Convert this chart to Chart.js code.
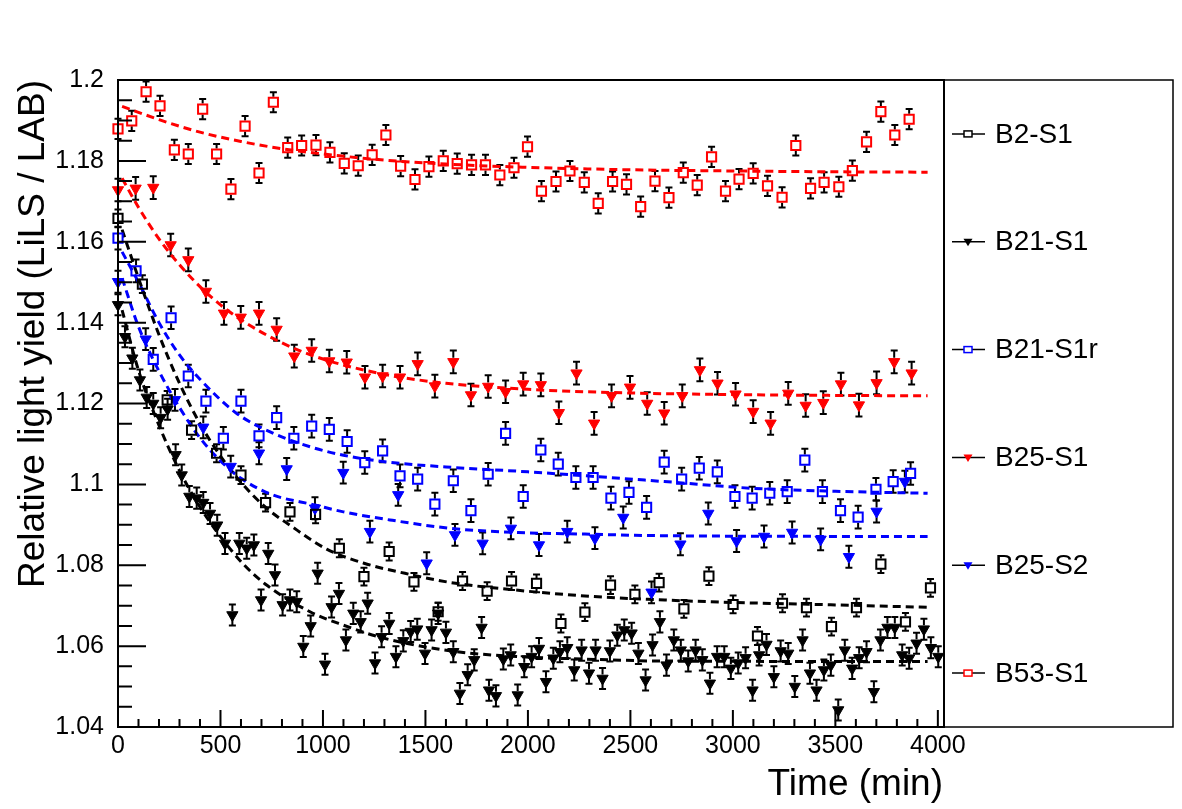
<!DOCTYPE html>
<html lang="es">
<head>
<meta charset="utf-8">
<title>Relative light yield</title>
<script src="https://cdn.jsdelivr.net/npm/chart.js@4.4.1/dist/chart.umd.min.js"></script>
<style>
  html, body { margin: 0; padding: 0; background: #ffffff; }
  #grafico { display: block; }
</style>
</head>
<body>
<canvas id="grafico" width="1182" height="809"></canvas>
<script>
(function () {
  "use strict";

  // ---- Datos (tiempo en min, rendimiento relativo) ----
  const tB2S1 = [0, 119, 240, 359, 481, 600, 720, 839, 964, 1080, 1200, 1323, 1444, 1562, 1681, 1801, 1920, 2042, 2161, 2278, 2403, 2522, 2640, 2761, 2883, 3001, 3120, 3242, 3359, 3481, 3603, 3722, 3842, 3964];
  const vB2S1 = [1.1658, 1.1495, 1.1209, 1.1134, 1.1077, 1.1023, 1.0955, 1.0932, 1.0926, 1.0842, 1.0772, 1.0834, 1.0759, 1.0685, 1.0761, 1.0736, 1.0761, 1.0755, 1.0656, 1.0684, 1.0751, 1.0728, 1.0757, 1.0692, 1.0773, 1.0703, 1.0625, 1.0706, 1.0695, 1.0648, 1.0695, 1.0803, 1.0660, 1.0744];

  const tB21S1 = [0, 34, 70, 107, 140, 172, 208, 242, 281, 311, 348, 384, 416,
    449, 484, 522, 558, 592, 628, 663, 698, 733, 766, 803, 839, 872, 904, 940, 974, 1010, 1042, 1078, 1112, 1148, 1184, 1218, 1254, 1286, 1323,
    1356, 1392, 1428, 1460, 1498, 1530, 1562, 1600, 1636, 1668, 1706, 1738, 1774, 1810, 1844, 1880, 1916, 1950, 1982, 2018, 2054, 2088, 2124, 2156, 2192, 2226, 2262, 2298, 2330, 2364, 2400, 2436, 2470, 2506, 2539, 2574, 2608, 2644,
    2676, 2712, 2746, 2782, 2818, 2851, 2888, 2923, 2958, 2990, 3026, 3062, 3096, 3128, 3164, 3200, 3233, 3270, 3302, 3340, 3376, 3408, 3444, 3478, 3514, 3546, 3582, 3616, 3652, 3688, 3720, 3754, 3790, 3826, 3860, 3896, 3932, 3966, 4002];
  const vB21S1 = [1.1444, 1.1365, 1.1312, 1.1258, 1.1215, 1.1200, 1.1165, 1.1186, 1.1073, 1.1023, 1.0970, 1.0966, 1.0955,
    1.0928, 1.0899, 1.0854, 1.0677, 1.0854, 1.0842, 1.0850, 1.0714, 1.0829, 1.0776, 1.0702, 1.0714, 1.0710, 1.0599, 1.0650, 1.0780, 1.0555, 1.0697, 1.0730, 1.0615, 1.0681, 1.0660, 1.0706, 1.0558, 1.0623, 1.0656,
    1.0574, 1.0613, 1.0636, 1.0642, 1.0582, 1.0640, 1.0681, 1.0634, 1.0586, 1.0483, 1.0529, 1.0566, 1.0646, 1.0491, 1.0477, 1.0568, 1.0578, 1.0479, 1.0549, 1.0574, 1.0594, 1.0512, 1.0570, 1.0586, 1.0596, 1.0541, 1.0590, 1.0533, 1.0590, 1.0520, 1.0588, 1.0627, 1.0640, 1.0632, 1.0582, 1.0516, 1.0603, 1.0660,
    1.0553, 1.0615, 1.0590, 1.0563, 1.0590, 1.0566, 1.0508, 1.0574, 1.0574, 1.0545, 1.0558, 1.0571, 1.0491, 1.0578, 1.0604, 1.0524, 1.0588, 1.0582, 1.0500, 1.0615, 1.0533, 1.0491, 1.0541, 1.0553, 1.0442, 1.0590, 1.0545, 1.0571, 1.0586, 1.0487, 1.0615, 1.0646, 1.0646, 1.0578, 1.0570, 1.0607, 1.0642, 1.0596, 1.0574];

  const tB21S1r = [0, 88, 172, 259, 343, 429, 514, 600, 688, 774, 858, 945, 1031, 1118, 1204, 1291, 1376, 1462, 1546, 1636, 1722, 1806, 1891, 1977, 2063, 2148, 2234, 2318, 2405, 2493, 2579, 2665, 2750, 2836, 2924, 3010, 3094, 3180, 3265, 3351, 3437, 3525, 3611, 3698, 3782, 3867];
  const vB21S1r = [1.1609, 1.1528, 1.1309, 1.1412, 1.1268, 1.1206, 1.1114, 1.1206, 1.1120, 1.1165, 1.1114, 1.1144, 1.1136, 1.1106, 1.1054, 1.1083, 1.1021, 1.1013, 1.0951, 1.1009, 1.0935, 1.1025, 1.1126, 1.0970, 1.1085, 1.1050, 1.1017, 1.1017, 1.0966, 1.0980, 1.0943, 1.1055, 1.1013, 1.1040, 1.1031, 1.0970, 1.0966, 1.0978, 1.0982, 1.1060, 1.0982, 1.0935, 1.0919, 1.0988, 1.1007, 1.1027];

  const tB25S1 = [0, 86, 172, 257, 343, 429, 517, 599, 688, 774, 860, 945, 1031, 1116, 1205, 1291, 1376, 1462, 1546, 1636, 1722, 1806, 1891, 1977, 2063, 2151, 2237, 2323, 2408, 2498, 2582, 2665, 2753, 2839, 2925, 3013, 3099, 3184, 3270, 3355, 3441, 3527, 3615, 3701, 3787, 3872];
  const vB25S1 = [1.1728, 1.1732, 1.1734, 1.1592, 1.1555, 1.1477, 1.1423, 1.1413, 1.1423, 1.1383, 1.1317, 1.1331, 1.1305, 1.1302, 1.1265, 1.1268, 1.1265, 1.1298, 1.1243, 1.1303, 1.1221, 1.1242, 1.1229, 1.1248, 1.1246, 1.1177, 1.1275, 1.1151, 1.1219, 1.1240, 1.1200, 1.1176, 1.1219, 1.1283, 1.1250, 1.1223, 1.1180, 1.1151, 1.1225, 1.1195, 1.1202, 1.1248, 1.1196, 1.1251, 1.1303, 1.1275];

  const tB25S2 = [0, 135, 278, 416, 550, 688, 823, 961, 1099, 1229, 1367, 1506, 1644, 1779, 1917, 2054, 2192, 2327, 2465, 2603, 2744, 2880, 3018, 3152, 3289, 3428, 3566, 3701, 3839];
  const vB25S2 = [1.1501, 1.1359, 1.1209, 1.1141, 1.1044, 1.1077, 1.1038, 1.0941, 1.1029, 1.0883, 1.0974, 1.0805, 1.0875, 1.0854, 1.0891, 1.0850, 1.0883, 1.0867, 1.0918, 1.0733, 1.0852, 1.0928, 1.0860, 1.0871, 1.0881, 1.0864, 1.0821, 1.0933, 1.1007];

  const tB53S1 = [0, 67, 137, 205, 275, 343, 413, 481, 551, 620, 688, 758, 828, 896, 966, 1034, 1104, 1172, 1240, 1307, 1379, 1449, 1517, 1587, 1655, 1725, 1793, 1863, 1932, 1998, 2066, 2137, 2205, 2275, 2343, 2413, 2481, 2550, 2620, 2688, 2758, 2826, 2896, 2964, 3030, 3099, 3169, 3240, 3307, 3379, 3445, 3517, 3583, 3652, 3722, 3790, 3860];
  const vB53S1 = [1.1879, 1.1899, 1.1971, 1.1936, 1.1827, 1.1817, 1.1928, 1.1817, 1.1730, 1.1886, 1.1770, 1.1945, 1.1833, 1.1838, 1.1839, 1.1821, 1.1794, 1.1788, 1.1815, 1.1864, 1.1787, 1.1754, 1.1786, 1.1800, 1.1793, 1.1790, 1.1790, 1.1765, 1.1783, 1.1835, 1.1725, 1.1749, 1.1775, 1.1747, 1.1695, 1.1749, 1.1742, 1.1687, 1.1750, 1.1709, 1.1771, 1.1740, 1.1810, 1.1725, 1.1755, 1.1769, 1.1738, 1.1710, 1.1838, 1.1732, 1.1747, 1.1736, 1.1776, 1.1847, 1.1922, 1.1864, 1.1903];

  // Errores típicos (media barra) de cada serie
  const errB2S1 = 0.0022, errB21S1 = 0.0026, errB21S1r = 0.0028;
  const errB25S1 = 0.0028, errB25S2 = 0.0027, errB53S1 = 0.0025;

  const ajT_B2S1 = [20, 100, 200, 300, 400, 500, 600, 725, 839, 1018, 1200, 1400, 1627, 1953, 2278, 2668, 3000, 3500, 3950];
  const ajV_B2S1 = [1.1630, 1.1510, 1.1370, 1.1250, 1.1150, 1.1070, 1.1005, 1.0941, 1.0899, 1.0840, 1.0805, 1.0780, 1.0757, 1.0738, 1.0724, 1.0714, 1.0708, 1.0702, 1.0696];
  const ajT_B21S1 = [20, 100, 200, 300, 400, 500, 611, 725, 937, 1099, 1294, 1627, 1953, 2278, 2668, 3950];
  const ajV_B21S1 = [1.1431, 1.1282, 1.1146, 1.1034, 1.0944, 1.0871, 1.0803, 1.0751, 1.0685, 1.0652, 1.0620, 1.0588, 1.0574, 1.0568, 1.0563, 1.0562];
  const ajT_B21S1r = [20, 100, 200, 300, 400, 578, 750, 937, 1100, 1302, 1600, 2000, 2665, 3105, 3500, 3950];
  const ajV_B21S1r = [1.1575, 1.1500, 1.1400, 1.1320, 1.1260, 1.1176, 1.1128, 1.1093, 1.1072, 1.1056, 1.1043, 1.1031, 1.1007, 1.0990, 1.0983, 1.0978];
  const ajT_B25S1 = [20, 100, 200, 300, 400, 500, 600, 800, 1000, 1300, 1600, 2000, 2500, 3000, 3500, 3950];
  const ajV_B25S1 = [1.1757, 1.1685, 1.1607, 1.1543, 1.1489, 1.1444, 1.1407, 1.1350, 1.1310, 1.1272, 1.1250, 1.1235, 1.1226, 1.1222, 1.1220, 1.1219];
  const ajT_B25S2 = [20, 100, 200, 300, 400, 500, 600, 750, 961, 1100, 1327, 1628, 1953, 2278, 2668, 3950];
  const ajV_B25S2 = [1.1510, 1.1390, 1.1280, 1.1190, 1.1115, 1.1058, 1.1015, 1.0975, 1.0949, 1.0932, 1.0912, 1.0891, 1.0881, 1.0877, 1.0873, 1.0871];
  const ajT_B53S1 = [20, 200, 400, 600, 800, 1000, 1300, 1600, 2000, 2500, 3000, 3500, 3950];
  const ajV_B53S1 = [1.1935, 1.1902, 1.1871, 1.1848, 1.1830, 1.1817, 1.1802, 1.1792, 1.1784, 1.1778, 1.1775, 1.1773, 1.1772];

  // Ejes
  const xTicks = [0, 500, 1000, 1500, 2000, 2500, 3000, 3500, 4000];
  const yTicks = [1.04, 1.06, 1.08, 1.1, 1.12, 1.14, 1.16, 1.18, 1.2];
  const yTickLabels = ["1.04", "1.06", "1.08", "1.1", "1.12", "1.14", "1.16", "1.18", "1.2"];
  const tituloX = "Time (min)";
  const tituloY = "Relative light yield (LiLS / LAB)";

  const FUENTE = '"Liberation Sans", Arimo, Arial, Helvetica, sans-serif';
  const ROJO = "#ff0000", AZUL = "#0000ff", NEGRO = "#000000";

  function puntos(t, v) {
    return t.map((x, i) => ({ x: x, y: v[i] }));
  }

  // Serie de marcadores con barra de error
  function serie(nombre, t, v, err, color, forma) {
    const tri = forma === "triangle";
    return {
      label: nombre,
      data: puntos(t, v),
      showLine: false,
      pointStyle: forma,
      rotation: tri ? 180 : 0,
      pointRadius: tri ? 6.5 : 6.5,
      pointBorderWidth: tri ? 1 : 2,
      pointBackgroundColor: tri ? color : "rgba(0,0,0,0)",
      pointBorderColor: color,
      errorY: err,
      hueco: tri ? 4 : 5.5,
      clip: false,
      order: 1,
    };
  }

  // Curva de ajuste discontinua
  function ajuste(t, v, color) {
    return {
      label: "",
      data: puntos(t, v),
      showLine: true,
      cubicInterpolationMode: "monotone",
      borderColor: color,
      borderWidth: 3,
      borderDash: [8, 5],
      pointRadius: 0,
      fill: false,
      order: 2,
    };
  }

  const series = [
    serie("B2-S1", tB2S1, vB2S1, errB2S1, NEGRO, "rect"),
    serie("B21-S1", tB21S1, vB21S1, errB21S1, NEGRO, "triangle"),
    serie("B21-S1r", tB21S1r, vB21S1r, errB21S1r, AZUL, "rect"),
    serie("B25-S1", tB25S1, vB25S1, errB25S1, ROJO, "triangle"),
    serie("B25-S2", tB25S2, vB25S2, errB25S2, AZUL, "triangle"),
    serie("B53-S1", tB53S1, vB53S1, errB53S1, ROJO, "rect"),
  ];
  const ajustes = [
    ajuste(ajT_B2S1, ajV_B2S1, NEGRO),
    ajuste(ajT_B21S1, ajV_B21S1, NEGRO),
    ajuste(ajT_B21S1r, ajV_B21S1r, AZUL),
    ajuste(ajT_B25S1, ajV_B25S1, ROJO),
    ajuste(ajT_B25S2, ajV_B25S2, AZUL),
    ajuste(ajT_B53S1, ajV_B53S1, ROJO),
  ];

  // Barras de error (debajo de los marcadores)
  function dibujarErrores(chart) {
    const ctx = chart.ctx, xs = chart.scales.x, ys = chart.scales.y;
    ctx.save();
    ctx.strokeStyle = NEGRO;
    ctx.lineWidth = 2;
    chart.data.datasets.forEach((ds) => {
      if (!ds.errorY) return;
      ds.data.forEach((p) => {
        const px = xs.getPixelForValue(p.x);
        const py = ys.getPixelForValue(p.y);
        const arriba = ys.getPixelForValue(p.y + ds.errorY);
        const abajo = ys.getPixelForValue(p.y - ds.errorY);
        ctx.beginPath();
        if (py - ds.hueco > arriba) {
          ctx.moveTo(px, arriba); ctx.lineTo(px, py - ds.hueco);
          ctx.moveTo(px, py + ds.hueco); ctx.lineTo(px, abajo);
        }
        ctx.moveTo(px - 3.5, arriba); ctx.lineTo(px + 3.5, arriba);
        ctx.moveTo(px - 3.5, abajo); ctx.lineTo(px + 3.5, abajo);
        ctx.stroke();
      });
    });
    ctx.restore();
  }

  // Marco, marcas de los ejes y títulos al estilo ROOT
  function dibujarMarco(chart) {
    const ctx = chart.ctx, a = chart.chartArea;
    const xs = chart.scales.x, ys = chart.scales.y;
    ctx.save();
    ctx.strokeStyle = NEGRO;
    ctx.lineWidth = 2;
    ctx.strokeRect(a.left, a.top, a.right - a.left, a.bottom - a.top);

    ctx.beginPath();
    for (let k = 0; k <= 32; k++) {
      const y = ys.getPixelForValue(1.04 + k * 0.005);
      const largo = k % 4 === 0 ? 28 : 14;
      ctx.moveTo(a.left, y); ctx.lineTo(a.left + largo, y);
    }
    for (let k = 0; k <= 40; k++) {
      const x = xs.getPixelForValue(k * 100);
      const largo = k % 5 === 0 ? 17 : 8;
      ctx.moveTo(x, a.bottom); ctx.lineTo(x, a.bottom - largo);
    }
    ctx.stroke();

    // títulos
    ctx.fillStyle = NEGRO;
    ctx.font = "37px " + FUENTE;
    ctx.textAlign = "right";
    ctx.textBaseline = "alphabetic";
    ctx.fillText(tituloX, a.right - 1, 795);

    ctx.translate(44, a.top);
    ctx.rotate(-Math.PI / 2);
    ctx.fillText(tituloY, 0, 0);
    ctx.restore();
  }

  // Leyenda en caja a la derecha
  function dibujarLeyenda(chart) {
    const ctx = chart.ctx, a = chart.chartArea;
    const izq = a.right, der = 1173;
    ctx.save();
    ctx.strokeStyle = NEGRO;
    ctx.lineWidth = 1.5;
    ctx.strokeRect(izq, a.top, der - izq, a.bottom - a.top);

    const paso = (a.bottom - a.top) / series.length;
    ctx.font = "28px " + FUENTE;
    ctx.textAlign = "left";
    ctx.textBaseline = "middle";
    series.forEach((ds, i) => {
      const y = a.top + paso * (i + 0.5);
      const cx = 968;
      ctx.strokeStyle = NEGRO;
      ctx.lineWidth = 1.5;
      ctx.beginPath();
      ctx.moveTo(952, y); ctx.lineTo(985, y);
      ctx.stroke();
      if (ds.pointStyle === "rect") {
        ctx.fillStyle = "#ffffff";
        ctx.fillRect(cx - 4, y - 3, 8, 6);
        ctx.strokeStyle = ds.pointBorderColor;
        ctx.lineWidth = 1.5;
        ctx.strokeRect(cx - 4, y - 3, 8, 6);
      } else {
        ctx.fillStyle = ds.pointBorderColor;
        ctx.beginPath();
        ctx.moveTo(cx - 4.5, y - 3);
        ctx.lineTo(cx + 4.5, y - 3);
        ctx.lineTo(cx, y + 4.5);
        ctx.closePath();
        ctx.fill();
      }
      ctx.fillStyle = NEGRO;
      ctx.fillText(ds.label, 995, y + 1);
    });
    ctx.restore();
  }

  const pluginRoot = {
    id: "estiloRoot",
    beforeDatasetsDraw: dibujarErrores,
    afterDraw: function (chart) {
      dibujarMarco(chart);
      dibujarLeyenda(chart);
    },
  };

  const ctx = document.getElementById("grafico");
  new Chart(ctx.getContext("2d"), {
    type: "scatter",
    data: { datasets: series.concat(ajustes) },
    options: {
      responsive: false,
      animation: false,
      devicePixelRatio: 1,
      layout: { padding: { left: 0, top: 80, right: 238, bottom: 0 } },
      plugins: { legend: { display: false }, tooltip: { enabled: false } },
      scales: {
        x: {
          type: "linear",
          min: 0,
          max: 4030,
          grid: { display: false, drawTicks: false },
          border: { display: false },
          afterBuildTicks: (s) => { s.ticks = xTicks.map((v) => ({ value: v })); },
          afterFit: (s) => { s.height = 82; },
          ticks: {
            color: NEGRO,
            font: { family: FUENTE, size: 25 },
            padding: 4,
            maxRotation: 0,
            autoSkip: false,
            callback: (v) => String(v),
          },
        },
        y: {
          type: "linear",
          min: 1.04,
          max: 1.2,
          grid: { display: false, drawTicks: false },
          border: { display: false },
          afterBuildTicks: (s) => { s.ticks = yTicks.map((v) => ({ value: v })); },
          afterFit: (s) => { s.width = 118; },
          ticks: {
            color: NEGRO,
            font: { family: FUENTE, size: 25 },
            padding: 14,
            autoSkip: false,
            callback: (v, i) => yTickLabels[i],
          },
        },
      },
    },
    plugins: [pluginRoot],
  });
})();
</script>
</body>
</html>
